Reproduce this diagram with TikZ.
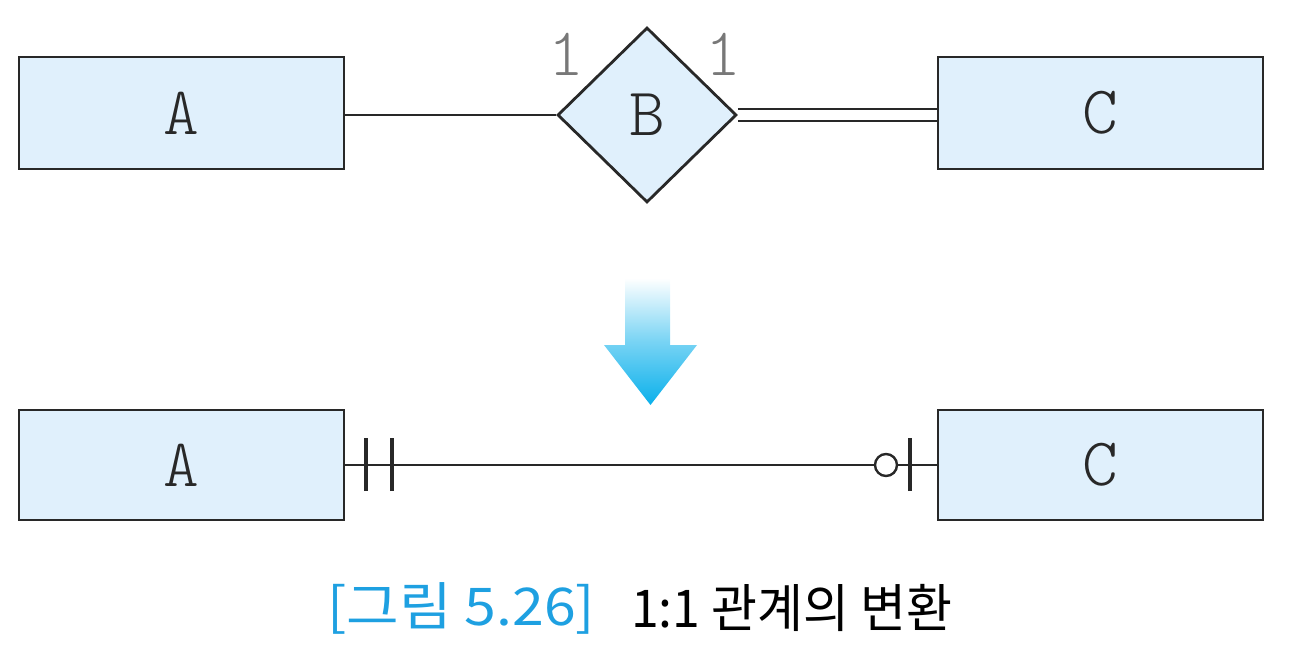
\documentclass[tikz,border=0pt]{standalone}
\usepackage{fontspec}
\setmonofont{lmmonolt10-regular}[Extension=.otf]
\newfontfamily\krfont{Noto Sans CJK KR}
\usetikzlibrary{shapes.geometric}
\definecolor{boxfill}{RGB}{224,240,252}
\definecolor{edge}{RGB}{40,40,40}
\definecolor{capblue}{RGB}{30,160,225}
\definecolor{arrowcyan}{RGB}{10,176,235}
\definecolor{numgray}{RGB}{120,120,120}
\tikzset{
  entity/.style={draw=edge, fill=boxfill, line width=2.8pt, minimum width=325pt, minimum height=112pt, inner sep=0pt, font=\ttfamily\fontsize{68}{68}\selectfont, text=edge},
  rel/.style={draw=edge, fill=boxfill, diamond, line width=2.8pt, aspect=1, inner sep=0pt, font=\ttfamily\fontsize{68}{68}\selectfont, text=edge},
  conn/.style={draw=edge, line width=2.4pt},
  bar/.style={draw=edge, line width=4.6pt},
  card/.style={font=\ttfamily\fontsize{68}{68}\selectfont, text=numgray, inner sep=0pt},
  capfont/.style={font=\krfont\fontsize{52}{52}\selectfont, inner sep=0pt}
}
\begin{document}
\begin{tikzpicture}[x=1pt,y=-1pt]
\useasboundingbox (0,0) rectangle (1292,652);
% top row
\node[entity] (A1) at (181.5,113) {A};
\node[entity] (C1) at (1100.5,113) {C};
\node[rel, minimum width=179pt, minimum height=175pt] (B) at (647,115) {B};
\draw[conn] (A1.east |- B.west) -- (B.west);
\draw[conn] ([yshift=-6pt]B.east) -- ([yshift=-6pt]B.east -| C1.west);
\draw[conn] ([yshift=6pt]B.east) -- ([yshift=6pt]B.east -| C1.west);
\node[card] (n1) at (566,54) {1};
\node[card] (n2) at (723,54) {1};
% arrow
\shade[top color=white, bottom color=arrowcyan, middle color=arrowcyan!55]
  (625,278) -- (670,278) -- (670,345) -- (697,345) -- (650.5,405) -- (604,345) -- (625,345) -- cycle;
% bottom row
\node[entity, minimum height=110pt] (A2) at (181.5,465) {A};
\node[entity, minimum height=110pt] (C2) at (1100.5,465) {C};
\coordinate (b1) at (366,465);
\coordinate (b2) at (392,465);
\coordinate (ob) at (910,465);
\node[draw=edge, line width=2.4pt, circle, minimum size=22pt, inner sep=0pt, fill=white] (o) at (886,465) {};
\draw[conn] (A2.east) -- (o.west);
\draw[conn] (o.east) -- (C2.west);
\draw[bar] ([yshift=-26pt]b1) -- ([yshift=27pt]b1);
\draw[bar] ([yshift=-26pt]b2) -- ([yshift=27pt]b2);
\draw[bar] ([yshift=-26pt]ob) -- ([yshift=27pt]ob);
% caption
\node[capfont, anchor=west, text=capblue, xscale=1.1] (cap1) at (327,608) {[그림 5.26]};
\node[capfont, anchor=west, text=black, xscale=0.96] (cap2) at (631,608) {1:1 관계의 변환};
\end{tikzpicture}
\end{document}
